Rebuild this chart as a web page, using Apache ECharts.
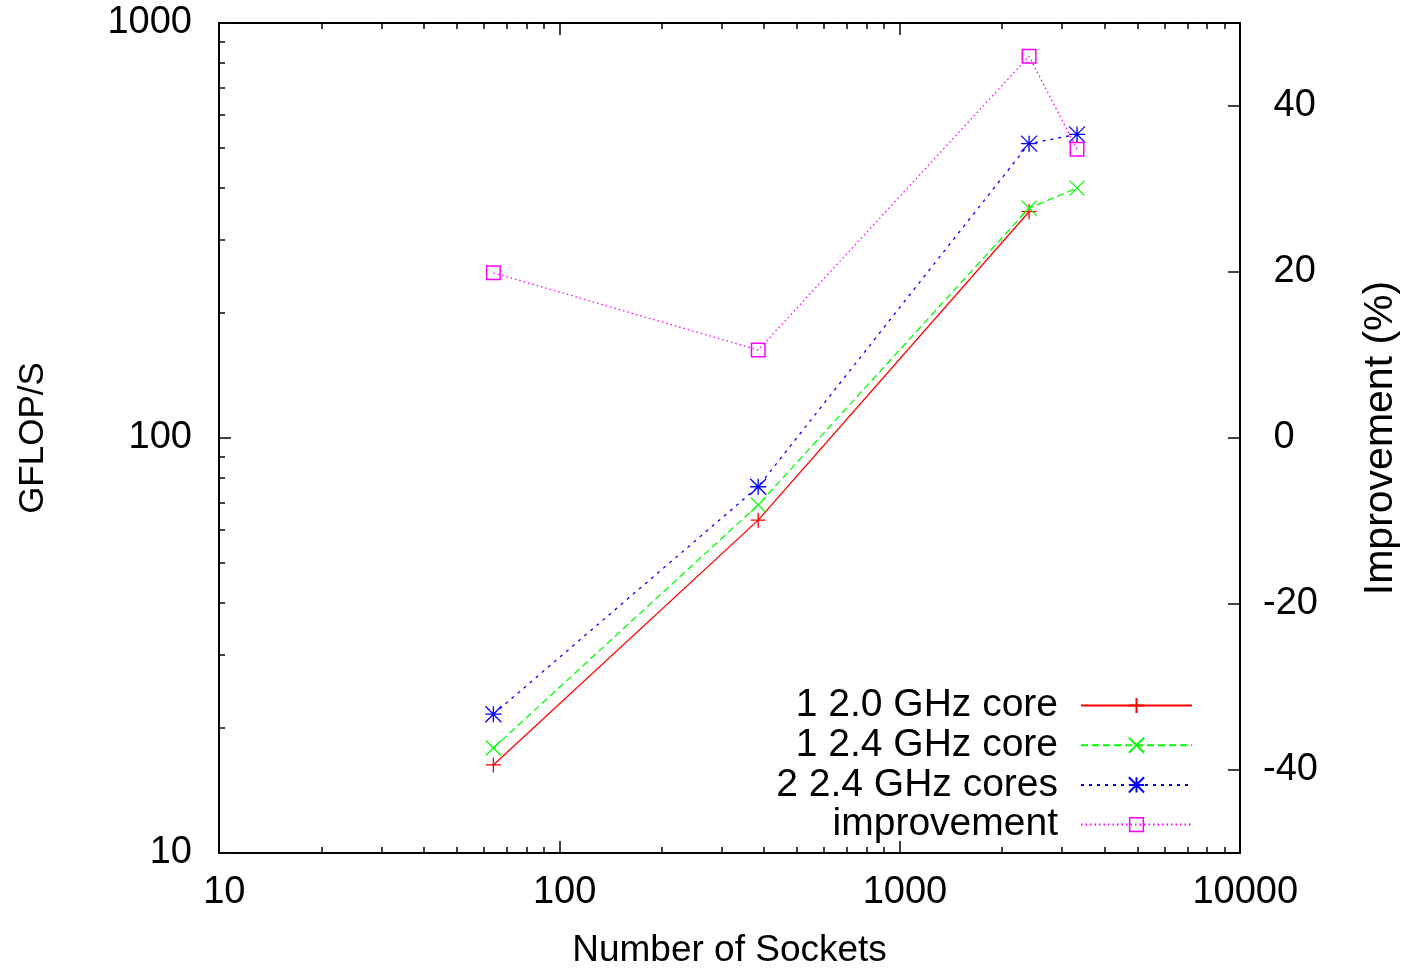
<!DOCTYPE html>
<html>
<head>
<meta charset="utf-8">
<title>GFLOP/S vs sockets</title>
<script src="https://cdn.jsdelivr.net/npm/echarts@6/dist/echarts.min.js"></script>
<style>
  html, body { margin: 0; padding: 0; background: #fff; }
  #chart { width: 1405px; height: 973px; }
</style>
</head>
<body>
<div id="chart"></div>
<script>
// data
const sockets = [64, 384, 2400, 3320];
const core20 = [16.3, 63.4, 351];          // 1 2.0 GHz core (no 4th point)
const core24 = [17.9, 69.0, 358, 400];      // 1 2.4 GHz core
const cores24x2 = [21.6, 76.3, 512, 539];   // 2 2.4 GHz cores
const improvement = [19.9, 10.6, 46.0, 34.8];

const seriesNames = ['1 2.0 GHz core', '1 2.4 GHz core', '2 2.4 GHz cores', 'improvement'];
const xMajor = [10, 100, 1000, 10000];
const yMajor = [10, 100, 1000];
const y2Ticks = [-40, -20, 0, 20, 40];

// minor ticks 2..9 of each decade
function minorTicks(from, to) {
    let out = [];
    for (let d = from; d < to; d *= 10) {
        for (let k = 2; k <= 9; k++) out.push(d * k);
    }
    return out;
}

const FONT = 'Liberation Sans, Arial, sans-serif';
const FS = 38;

function pairs(ys) {
    return ys.map((v, i) => [sockets[i], v]);
}

// each axis gets its own (near-black) tick colour
function ticks(values, len, color) {
    return { show: true, inside: true, length: len, customValues: values, lineStyle: { color: color, width: 1.5 } };
}

function tickAxis(extra) {
    return Object.assign({
        gridIndex: 0,
        axisLine: { show: false, onZero: false },
        splitLine: { show: false },
        axisLabel: { show: false }
    }, extra);
}

const xBase = { type: 'log', logBase: 10, min: 10, max: 10000 };
const yBase = { type: 'log', logBase: 10, min: 10, max: 1000 };

const chart = echarts.init(document.getElementById('chart'));

chart.setOption({
    animation: false,
    textStyle: { fontFamily: FONT },
    grid: {
        left: 219, right: 165, top: 23, bottom: 120,
        show: true, borderColor: '#000', borderWidth: 2,
        outerBoundsMode: 'none'
    },
    legend: {
        orient: 'vertical',
        align: 'right',
        right: 212,
        top: 686,
        padding: 0,
        itemWidth: 111,
        itemHeight: 19,
        itemGap: 0.7,
        textStyle: { fontSize: 39, color: '#000', padding: [0, 18, 0, 0] },
        data: seriesNames
    },
    xAxis: [
        tickAxis(Object.assign({}, xBase, {
            position: 'bottom',
            name: 'Number of Sockets',
            nameLocation: 'middle',
            nameGap: 79,
            nameTextStyle: { fontSize: 37, color: '#000' },
            axisTick: ticks(xMajor, 12, '#010101'),
            axisLabel: {
                show: true, customValues: xMajor, margin: 21,
                fontSize: FS, color: '#000',
                formatter: v => ' ' + v
            }
        })),
        tickAxis(Object.assign({}, xBase, { position: 'bottom', axisTick: ticks(minorTicks(10, 10000), 6, '#020202') })),
        tickAxis(Object.assign({}, xBase, { position: 'top', axisTick: ticks(xMajor, 12, '#030303') })),
        tickAxis(Object.assign({}, xBase, { position: 'top', axisTick: ticks(minorTicks(10, 10000), 6, '#040404') }))
    ],
    yAxis: [
        tickAxis(Object.assign({}, yBase, {
            position: 'left',
            name: 'GFLOP/S',
            nameLocation: 'middle',
            nameGap: 168,
            nameTextStyle: { fontSize: 35, color: '#000' },
            axisTick: ticks(yMajor, 12, '#050505'),
            axisLabel: {
                show: true, customValues: yMajor, margin: 27,
                fontSize: FS, color: '#000',
                formatter: v => String(v)
            }
        })),
        tickAxis(Object.assign({}, yBase, { position: 'left', axisTick: ticks(minorTicks(10, 1000), 6, '#060606') })),
        tickAxis({
            type: 'value',
            min: -50,
            max: 50,
            position: 'right',
            name: 'Improvement (%)',
            nameLocation: 'middle',
            nameGap: 120,
            nameTextStyle: { fontSize: 41, color: '#000' },
            axisTick: ticks(y2Ticks, 12, '#070707'),
            axisLabel: {
                show: true, customValues: y2Ticks, margin: 23, align: 'left',
                fontSize: FS, color: '#000',
                formatter: v => (v >= 0 ? ' ' : '') + v
            }
        })
    ],
    series: [
        {
            name: seriesNames[0],
            type: 'line',
            xAxisIndex: 0, yAxisIndex: 0,
            data: pairs(core20),
            symbol: 'path://M0,5L10,5M5,0L5,10',
            symbolSize: 15,
            lineStyle: { color: '#ff0000', width: 1.3, type: 'solid' },
            itemStyle: { color: '#ff0000', borderColor: '#ff0000', borderWidth: 1.3 }
        },
        {
            name: seriesNames[1],
            type: 'line',
            xAxisIndex: 0, yAxisIndex: 0,
            data: pairs(core24),
            symbol: 'path://M0,0L10,10M10,0L0,10',
            symbolSize: 15,
            lineStyle: { color: '#00ff00', width: 1.3, type: [7, 4] },
            itemStyle: { color: '#00ff00', borderColor: '#00ff00', borderWidth: 1.3 }
        },
        {
            name: seriesNames[2],
            type: 'line',
            xAxisIndex: 0, yAxisIndex: 0,
            data: pairs(cores24x2),
            symbol: 'path://M0,5L10,5M5,0L5,10M0,0L10,10M10,0L0,10',
            symbolSize: 16,
            lineStyle: { color: '#0000ff', width: 1.3, type: [3, 5] },
            itemStyle: { color: '#0000ff', borderColor: '#0000ff', borderWidth: 1.3 }
        },
        {
            name: seriesNames[3],
            type: 'line',
            xAxisIndex: 0, yAxisIndex: 2,
            data: pairs(improvement),
            symbol: 'path://M0,0H10V10H0Z M1,1V9H9V1Z',
            symbolSize: 15,
            lineStyle: { color: '#ff00ff', width: 1.3, type: [1.5, 3] },
            itemStyle: { color: '#ff00ff', borderWidth: 0 }
        }
    ]
});
</script>
</body>
</html>
